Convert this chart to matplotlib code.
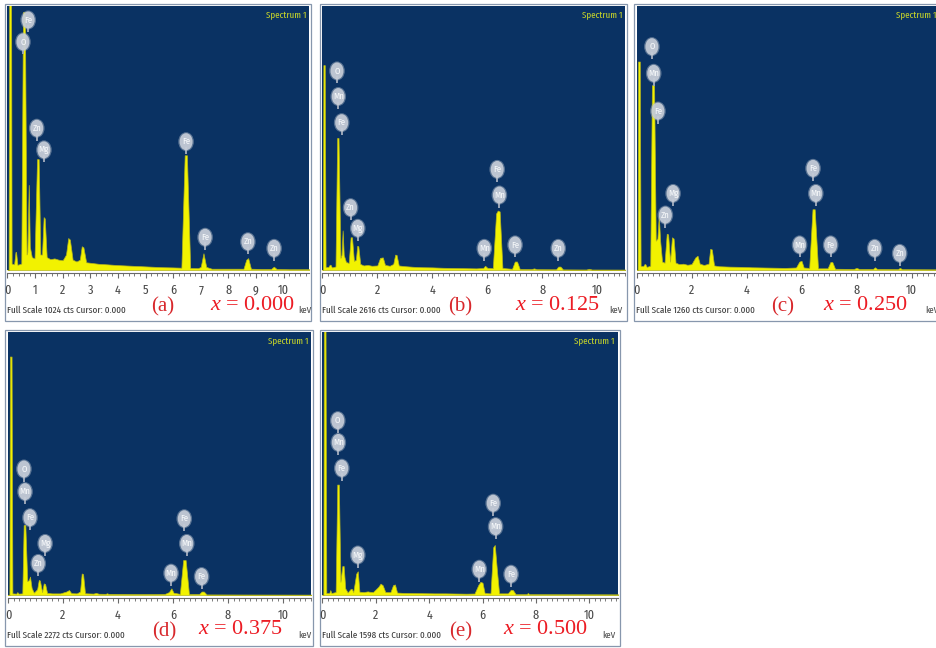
import numpy as np
import matplotlib
matplotlib.use("Agg")
import matplotlib.pyplot as plt
from matplotlib.patches import Ellipse, Rectangle
from matplotlib.transforms import blended_transform_factory
from matplotlib.ticker import MultipleLocator

plt.rcParams['mathtext.fontset'] = 'custom'
plt.rcParams['mathtext.rm'] = 'Liberation Serif'
plt.rcParams['mathtext.it'] = 'Liberation Serif:italic'

# ---------------- data (energy keV, counts) ----------------
full_scale = [1024, 2616, 1260, 2272, 1598]
tags = ['(a)', '(b)', '(c)', '(d)', '(e)']
x_values = ['0.000', '0.125', '0.250', '0.375', '0.500']

spec_a = [(0.00, 0), (0.04, 0), (0.06, 1100), (0.13, 1100), (0.15, 25), (0.24, 22), (0.29, 70), (0.31, 70),
          (0.36, 20), (0.50, 25), (0.56, 1000), (0.63, 1000), (0.69, 60), (0.72, 70), (0.77, 330), (0.81, 90),
          (0.88, 50), (0.98, 45), (1.07, 430), (1.13, 430), (1.19, 60), (1.25, 60), (1.31, 205), (1.35, 200),
          (1.42, 50), (1.55, 42), (1.70, 45), (1.85, 40), (2.00, 38), (2.12, 60), (2.20, 124), (2.26, 118),
          (2.36, 40), (2.50, 33), (2.62, 40), (2.69, 92), (2.75, 88), (2.85, 30), (3.0, 28), (3.3, 24),
          (3.6, 22), (4.0, 19), (4.4, 17), (4.8, 15), (5.2, 13), (5.6, 11), (6.0, 10), (6.30, 9),
          (6.42, 445), (6.50, 445), (6.62, 8), (6.90, 7), (7.00, 12), (7.10, 65), (7.20, 12), (7.40, 5),
          (8.0, 5), (8.55, 5), (8.65, 40), (8.72, 46), (8.82, 5), (9.2, 4), (9.55, 4), (9.65, 13),
          (9.75, 4), (10.2, 3), (11.2, 3)]

spec_b = [(0.00, 0), (0.02, 0), (0.04, 2030), (0.09, 2030), (0.12, 30), (0.22, 30), (0.27, 52), (0.30, 52),
          (0.35, 25), (0.48, 35), (0.54, 1308), (0.59, 1308), (0.66, 120), (0.70, 150), (0.74, 392), (0.78, 150),
          (0.86, 80), (0.96, 70), (1.03, 324), (1.08, 324), (1.15, 90), (1.22, 100), (1.27, 240), (1.31, 235),
          (1.38, 60), (1.50, 45), (1.65, 50), (1.80, 42), (2.00, 45), (2.10, 120), (2.20, 125), (2.28, 50),
          (2.45, 42), (2.58, 60), (2.65, 152), (2.70, 150), (2.78, 45), (3.0, 38), (3.3, 32), (3.6, 28),
          (4.0, 26), (4.4, 22), (4.8, 20), (5.2, 18), (5.6, 16), (5.85, 20), (5.92, 42), (6.0, 22),
          (6.2, 18), (6.32, 560), (6.38, 589), (6.45, 580), (6.55, 20), (6.9, 12), (7.0, 84), (7.08, 84),
          (7.18, 10), (7.6, 9), (7.7, 16), (7.8, 8), (8.5, 7), (8.58, 34), (8.66, 34), (8.75, 6),
          (9.6, 5), (9.7, 12), (9.8, 5), (11.2, 4)]

spec_c = [(0.00, 0), (0.04, 0), (0.06, 995), (0.12, 995), (0.15, 20), (0.24, 18), (0.29, 28), (0.32, 28),
          (0.37, 15), (0.50, 20), (0.56, 882), (0.64, 882), (0.70, 140), (0.76, 150), (0.81, 260), (0.86, 140),
          (0.93, 40), (1.02, 35), (1.10, 173), (1.15, 170), (1.22, 40), (1.29, 156), (1.35, 150), (1.42, 35),
          (1.55, 28), (1.70, 30), (1.85, 25), (2.00, 28), (2.14, 60), (2.22, 68), (2.30, 30), (2.45, 24),
          (2.62, 30), (2.68, 101), (2.74, 98), (2.82, 22), (3.0, 18), (3.4, 16), (3.8, 15), (4.2, 13),
          (4.6, 12), (5.0, 11), (5.4, 10), (5.8, 12), (5.92, 40), (6.00, 44), (6.08, 12), (6.28, 10),
          (6.40, 290), (6.48, 290), (6.60, 8), (6.95, 8), (7.05, 38), (7.12, 38), (7.22, 6), (7.9, 5),
          (8.0, 10), (8.1, 5), (8.6, 5), (8.67, 13), (8.75, 5), (9.5, 4), (9.58, 10), (9.66, 4), (11.2, 3)]

spec_d = [(0.00, 0), (0.05, 0), (0.07, 2060), (0.13, 2060), (0.16, 14), (0.30, 12), (0.34, 25), (0.38, 12),
          (0.52, 14), (0.57, 604), (0.63, 604), (0.70, 120), (0.76, 130), (0.80, 159), (0.86, 60), (0.94, 20),
          (1.06, 50), (1.12, 130), (1.16, 125), (1.24, 25), (1.30, 100), (1.35, 95), (1.42, 18), (1.6, 14),
          (1.9, 14), (2.12, 30), (2.22, 43), (2.30, 16), (2.5, 14), (2.62, 30), (2.68, 186), (2.73, 180),
          (2.80, 15), (3.1, 12), (3.2, 18), (3.3, 11), (3.55, 10), (3.6, 15), (3.65, 10), (4.2, 9),
          (4.8, 8), (5.3, 8), (5.7, 9), (5.85, 25), (5.94, 57), (6.02, 20), (6.25, 10), (6.37, 302),
          (6.46, 302), (6.58, 8), (6.95, 8), (7.04, 30), (7.12, 30), (7.22, 5), (11.2, 3)]

spec_e = [(0.00, 0), (0.04, 0), (0.06, 1700), (0.12, 1700), (0.15, 12), (0.26, 12), (0.30, 30), (0.34, 12),
          (0.50, 18), (0.56, 671), (0.62, 671), (0.68, 80), (0.75, 176), (0.80, 176), (0.86, 40), (0.95, 15),
          (1.05, 35), (1.10, 38), (1.16, 18), (1.27, 130), (1.33, 144), (1.39, 20), (1.55, 18), (1.70, 22),
          (1.76, 20), (1.90, 18), (2.10, 50), (2.18, 69), (2.26, 60), (2.36, 18), (2.55, 17), (2.65, 60),
          (2.72, 64), (2.80, 15), (3.0, 13), (3.4, 12), (3.8, 11), (4.2, 10), (4.6, 10), (5.0, 9),
          (5.4, 8), (5.7, 9), (5.84, 60), (5.92, 80), (6.0, 75), (6.08, 12), (6.30, 10), (6.40, 290),
          (6.46, 304), (6.54, 150), (6.62, 10), (6.95, 10), (7.06, 32), (7.14, 30), (7.24, 5), (7.65, 5),
          (7.70, 12), (7.75, 5), (11.2, 4)]

spectra = [spec_a, spec_b, spec_c, spec_d, spec_e]

# element markers: (element, keV, height as fraction of full scale)
marks_a = [("Fe", 0.75, 0.947), ("O", 0.56, 0.864), ("Zn", 1.06, 0.537), ("Mg", 1.32, 0.455),
           ("Fe", 6.47, 0.486), ("Fe", 7.16, 0.124), ("Zn", 8.71, 0.107), ("Zn", 9.66, 0.082)]
marks_b = [("O", 0.535, 0.754), ("Mn", 0.58, 0.657), ("Fe", 0.705, 0.558), ("Zn", 1.03, 0.236),
           ("Mg", 1.29, 0.158), ("Mn", 5.89, 0.082), ("Fe", 6.36, 0.381), ("Mn", 6.44, 0.284),
           ("Fe", 7.01, 0.095), ("Zn", 8.58, 0.082)]
marks_c = [("O", 0.56, 0.846), ("Mn", 0.625, 0.745), ("Fe", 0.78, 0.602), ("Mg", 1.33, 0.29),
           ("Zn", 1.05, 0.208), ("Mn", 5.93, 0.095), ("Fe", 6.42, 0.385), ("Mn", 6.52, 0.29),
           ("Fe", 7.06, 0.095), ("Zn", 8.66, 0.082), ("Zn", 9.57, 0.063)]
marks_d = [("O", 0.58, 0.479), ("Mn", 0.62, 0.393), ("Fe", 0.80, 0.294), ("Mg", 1.35, 0.196),
           ("Zn", 1.10, 0.12), ("Mn", 5.93, 0.083), ("Fe", 6.41, 0.29), ("Mn", 6.50, 0.196),
           ("Fe", 7.04, 0.07)]
marks_e = [("O", 0.58, 0.663), ("Mn", 0.60, 0.58), ("Fe", 0.73, 0.482), ("Mg", 1.33, 0.152),
           ("Mn", 5.88, 0.098), ("Fe", 6.40, 0.349), ("Mn", 6.49, 0.26), ("Fe", 7.07, 0.079)]
marks = [marks_a, marks_b, marks_c, marks_d, marks_e]

tick_step = [1, 2, 2, 2, 2]

# ---------------- layout (pixels) ----------------
W, H = 936, 648
layout = [
    dict(x0=7.5, ppk=27.6, x1=309, top=6, base=270, frame=(5, 4, 311, 321), tag=163, xv=210, kev=298),
    dict(x0=322.3, ppk=27.5, x1=625, top=6, base=270, frame=(320, 4, 627, 321), tag=460, xv=515, kev=609),
    dict(x0=636.5, ppk=27.5, x1=940, top=6, base=270, frame=(634, 4, 945, 321), tag=783, xv=823, kev=925),
    dict(x0=8.0, ppk=27.5, x1=311, top=332, base=595, frame=(5, 330, 313, 646), tag=164, xv=198, kev=298),
    dict(x0=322.3, ppk=26.7, x1=618, top=332, base=595, frame=(320, 330, 620, 646), tag=461, xv=503, kev=602),
]

BLUE = '#0a3263'
YELLOW = '#f2f200'
YEDGE = '#b4b41c'
RED = '#ec1c24'
NARROW = ['Fira Sans Extra Condensed', 'Archivo Narrow', 'Liberation Sans']
SERIF = ['Liberation Serif', 'DejaVu Serif']

fig = plt.figure(figsize=(W / 100, H / 100), dpi=100)
fig.patch.set_facecolor('white')


def fx(px):
    return px / W


def fy(py):
    return 1 - py / H


for i, L in enumerate(layout):
    fs = full_scale[i]
    e, c = np.array(spectra[i], dtype=float).T
    f0x, f0y, f1x, f1y = L['frame']
    fig.add_artist(Rectangle((fx(f0x), fy(f1y)), (f1x - f0x) / W, (f1y - f0y) / H,
                             transform=fig.transFigure, facecolor='white',
                             edgecolor='#8797ad', lw=0.9, zorder=0))
    axw = L['x1'] - L['x0']
    axh = L['base'] - L['top']
    xmax = axw / L['ppk']
    ax = fig.add_axes([fx(L['x0']), fy(L['base']), axw / W, axh / H])
    ax.set_facecolor(BLUE)
    ax.fill_between(e, 0, c, facecolor=YELLOW, edgecolor=YEDGE, lw=0.5, zorder=2)
    ax.set_xlim(0, xmax)
    ax.set_ylim(0, fs)
    ax.set_yticks([])
    for s in ['top', 'left', 'right']:
        ax.spines[s].set_visible(False)
    ax.spines['bottom'].set_position(('outward', 2))
    ax.spines['bottom'].set_color('#6a6a6a')
    ax.spines['bottom'].set_linewidth(0.8)
    ax.xaxis.set_minor_locator(MultipleLocator(0.2))
    ax.tick_params(axis='x', which='major', direction='out', length=3.5, width=0.8,
                   color='#6a6a6a', pad=5, labelsize=9.5, labelcolor='#4a4a4a')
    ax.tick_params(axis='x', which='minor', direction='out', length=2.5, width=0.7, color='#7a7a7a')
    ticks = np.arange(0, 10.5, tick_step[i])
    ax.set_xticks(ticks)
    ax.set_xticklabels([f"{int(t)}" for t in ticks], fontfamily=NARROW)

    # element markers
    tr = blended_transform_factory(ax.transData, ax.transAxes)
    ew = 13 / L['ppk']
    eh = 17 / axh
    for el, kev, hy in marks[i]:
        ax.plot([kev, kev], [hy - eh * 0.5 - 4 / axh, hy - eh * 0.3], transform=tr,
                color='#9aa6b8', lw=1.4, zorder=3, solid_capstyle='butt')
        ax.add_patch(Ellipse((kev, hy), ew * 1.2, eh * 1.12, transform=tr,
                             facecolor='#b9c1cd', edgecolor='none', alpha=0.45, zorder=4))
        ax.add_patch(Ellipse((kev, hy), ew, eh, transform=tr,
                             facecolor='#c5ccd7', edgecolor='none', alpha=0.92, zorder=5))
        ax.text(kev, hy, el, transform=tr, ha='center', va='center', fontsize=6.8,
                color='#f6f8fa', fontfamily=NARROW, zorder=6)

    # spectrum label
    ax.text((L['x1'] - 3 - L['x0']) / axw, 1 - 10 / axh, 'Spectrum 1', transform=ax.transAxes,
            ha='right', va='center', fontsize=7, color='#c4d22a', fontfamily=NARROW, zorder=6)

    # texts below
    b = L['base']
    fig.text(fx(f0x + 2), fy(b + 40), f"Full Scale {fs} cts Cursor: 0.000", ha='left', va='center',
             fontsize=7.1, color='#3a3a3a', fontfamily=NARROW)
    fig.text(fx(L['tag']), fy(b + 37), tags[i], ha='center', va='center', fontsize=15,
             color='#d8282c', fontfamily=SERIF)
    fig.text(fx(L['xv']), fy(b + 35), r"$x$ = " + x_values[i], ha='left', va='center', fontsize=16,
             color=RED, fontfamily=SERIF)
    fig.text(fx(L['kev']), fy(b + 40), 'keV', ha='left', va='center', fontsize=7,
             color='#4a4a4a', fontfamily=NARROW)

fig.savefig('out.png', dpi=100, facecolor='white')
